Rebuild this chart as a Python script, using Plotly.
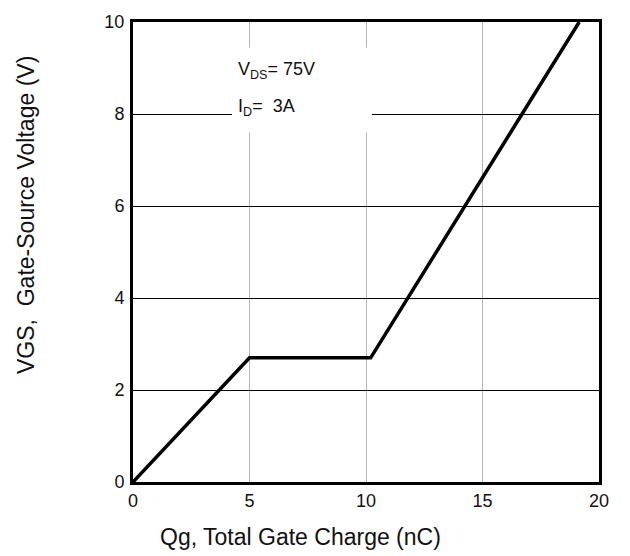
import plotly.graph_objects as go

qg = [0, 5.0, 10.2, 19.15]
vgs = [0, 2.7, 2.7, 10.0]
x_ticks = [0, 5, 10, 15, 20]
y_ticks = [0, 2, 4, 6, 8, 10]

FONT = "Liberation Sans, Arial, sans-serif"
TXT = "#111"

fig = go.Figure()
fig.add_trace(go.Scatter(x=qg, y=vgs, mode="lines",
                         line=dict(color="black", width=3.5), showlegend=False))

fig.add_shape(type="rect", x0=4.25, x1=10.25, y0=7.6, y1=9.45,
              xref="x", yref="y", fillcolor="white", line=dict(width=0),
              layer="between")

fig.add_annotation(x=4.42, y=8.95, xref="x", yref="y", xanchor="left", yanchor="middle",
                   text="V<sub>DS</sub>= 75V", showarrow=False,
                   font=dict(family=FONT, size=18, color=TXT))
fig.add_annotation(x=4.42, y=8.15, xref="x", yref="y", xanchor="left", yanchor="middle",
                   text="I<sub>D</sub>=  3A", showarrow=False,
                   font=dict(family=FONT, size=18, color=TXT))

# axis titles (placed as in the reference, off-centre)
fig.add_annotation(x=0.36, y=-0.12, xref="paper", yref="paper", xanchor="center", yanchor="middle",
                   text="Qg, Total Gate Charge (nC)", showarrow=False,
                   font=dict(family=FONT, size=23, color=TXT))
fig.add_annotation(x=-0.23, y=0.58, xref="paper", yref="paper", xanchor="center", yanchor="middle",
                   text="VGS,  Gate-Source Voltage (V)", showarrow=False, textangle=-90,
                   font=dict(family=FONT, size=23, color=TXT))

fig.update_layout(
    width=630, height=556,
    margin=dict(l=133, r=31, t=15, b=74),
    paper_bgcolor="white", plot_bgcolor="white",
    font=dict(family=FONT, size=18, color=TXT),
)
fig.update_xaxes(range=[0, 20], tickvals=x_ticks, showgrid=True, gridcolor="#b4b4b4",
                 gridwidth=1.2, zeroline=False, showline=True, linecolor="black",
                 linewidth=3, mirror=True, ticks="", tickfont=dict(size=18))
fig.update_yaxes(range=[0, 10], tickvals=y_ticks, showgrid=True, gridcolor="black",
                 gridwidth=1, zeroline=False, showline=True, linecolor="black",
                 linewidth=3, mirror=True, ticks="", tickfont=dict(size=18),
                 ticklabelstandoff=2)

fig.write_html("out.html")
